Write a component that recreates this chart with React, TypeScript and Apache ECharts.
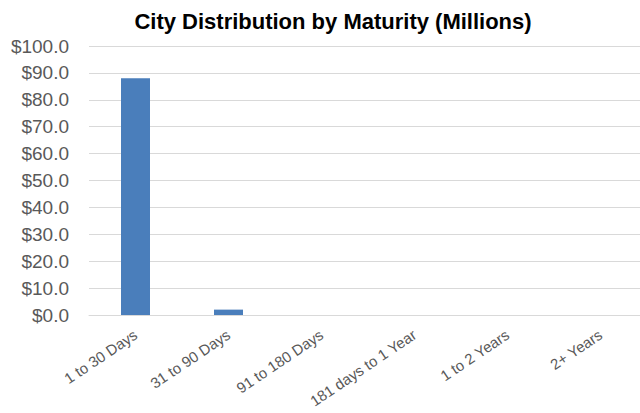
import React, { useEffect, useRef } from "react";
import * as echarts from "echarts";

const categories = ["1 to 30 Days", "31 to 90 Days", "91 to 180 Days", "181 days to 1 Year", "1 to 2 Years", "2+ Years"];
const values = [88.0, 2.0, 0, 0, 0, 0];
const titleText = "City Distribution by Maturity (Millions)";

export default function App() {
  const ref = useRef<HTMLDivElement>(null);
  useEffect(() => {
    if (!ref.current) return;
    const chart = echarts.init(ref.current, undefined, { renderer: "svg" });
    const font = "'Liberation Sans', Arial, sans-serif";
    chart.setOption({
      animation: false,
      title: {
        text: titleText,
        left: 328,
        top: 5,
        textAlign: "center",
        textStyle: { fontFamily: font, fontSize: 22, fontWeight: "bold", color: "#000" },
      },
      grid: { left: 89, top: 46, width: 558, height: 269, containLabel: false, outerBoundsMode: "none" },
      xAxis: {
        type: "category",
        data: categories,
        axisLine: { show: true, lineStyle: { color: "#d9d9d9", width: 1 } },
        axisTick: { show: false },
        axisLabel: {
          rotate: 34,
          margin: 18,
          interval: 0,
          fontFamily: font,
          fontSize: 15,
          color: "#595959",
        },
      },
      yAxis: {
        type: "value",
        min: 0,
        max: 100,
        interval: 10,
        axisLine: { show: false },
        axisTick: { show: false },
        splitLine: { lineStyle: { color: "#d9d9d9", width: 1 } },
        axisLabel: {
          margin: 20,
          fontFamily: font,
          fontSize: 19,
          color: "#595959",
          formatter: (v: number) => "$" + v.toFixed(1),
        },
      },
      series: [
        {
          type: "bar",
          data: values,
          barWidth: 29,
          itemStyle: { color: "#4a7ebb" },
        },
      ],
    });
    return () => chart.dispose();
  }, []);
  return <div ref={ref} style={{ width: 640, height: 413, position: "absolute", left: 0, top: 0 }} />;
}
